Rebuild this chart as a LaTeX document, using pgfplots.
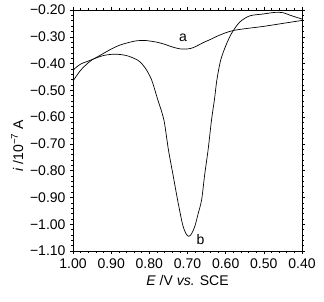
\documentclass[border=0pt]{standalone}
\usepackage{fontspec}
\setmainfont{Liberation Sans}
\usepackage{pgfplots}
\usetikzlibrary{calc}
\pgfplotsset{compat=1.18}
\begin{document}
\begin{tikzpicture}
\begin{axis}[
  name=ax,
  scale only axis,
  width=229pt, height=241pt,
  xmin=0.4, xmax=1.0, ymin=-1.10, ymax=-0.20,
  x dir=reverse,
  font=\fontsize{14}{16}\selectfont,
  xtick={0.4,0.5,0.6,0.7,0.8,0.9,1.0},
  xticklabels={0.40,0.50,0.60,0.70,0.80,0.90,1.00},
  ytick={-1.1,-1.0,-0.9,-0.8,-0.7,-0.6,-0.5,-0.4,-0.3,-0.2},
  yticklabels={−1.10,−1.00,−0.90,−0.80,−0.70,−0.60,−0.50,−0.40,−0.30,−0.20},
  minor tick num=4,
  tick align=outside,
  major tick length=3pt,
  minor tick length=1.5pt,
  tick style={black, line width=0.5pt},
  axis line style={line width=0.7pt},
  xlabel={\textit{E} /V \textit{vs.} SCE},
  ylabel={\textit{i} /10\textsuperscript{−7} A},
  every axis y label/.append style={at={(ticklabel cs:0.436)}},
  xticklabel style={yshift=-1pt},
  yticklabel style={xshift=-1pt},
]
\addplot[black, line width=0.7pt, smooth, tension=0.5] coordinates {
(1.00,-0.425) (0.98,-0.402) (0.948,-0.384) (0.92,-0.362) (0.90,-0.346)
(0.877,-0.331) (0.85,-0.320) (0.833,-0.315) (0.81,-0.314) (0.781,-0.320)
(0.76,-0.328) (0.74,-0.338) (0.72,-0.345) (0.705,-0.346) (0.69,-0.343)
(0.675,-0.334) (0.659,-0.322) (0.64,-0.310) (0.624,-0.299) (0.60,-0.285)
(0.578,-0.276) (0.55,-0.270) (0.50,-0.261) (0.45,-0.250) (0.40,-0.239)
};
\addplot[black, line width=0.7pt, smooth, tension=0.5] coordinates {
(1.00,-0.465) (0.98,-0.425) (0.96,-0.397) (0.948,-0.384) (0.92,-0.370)
(0.89,-0.365) (0.86,-0.370) (0.838,-0.382) (0.825,-0.393) (0.81,-0.418)
(0.794,-0.461) (0.779,-0.530) (0.762,-0.61) (0.750,-0.722) (0.738,-0.815)
(0.726,-0.909) (0.713,-1.000) (0.704,-1.035) (0.697,-1.045) (0.690,-1.037)
(0.681,-1.009) (0.672,-0.960) (0.663,-0.909) (0.655,-0.815) (0.646,-0.722)
(0.637,-0.61) (0.629,-0.530) (0.623,-0.461) (0.613,-0.387) (0.599,-0.331)
(0.584,-0.286) (0.563,-0.245) (0.537,-0.222) (0.502,-0.215) (0.471,-0.209)
(0.45,-0.210) (0.432,-0.219) (0.40,-0.234)
};
\node[font=\fontsize{14}{16}\selectfont] at (axis cs:0.712,-0.305) {a};
\node[font=\fontsize{14}{16}\selectfont] at (axis cs:0.666,-1.058) {b};
\end{axis}
\path ($(ax.south west)+(-73pt,-50pt)$) rectangle ($(ax.north east)+(22pt,10pt)$);
\end{tikzpicture}
\end{document}
